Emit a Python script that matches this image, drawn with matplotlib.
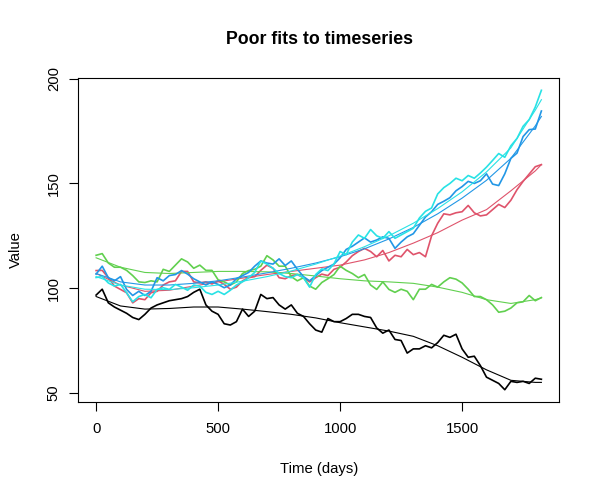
import numpy as np
import matplotlib
matplotlib.use("Agg")
import matplotlib.pyplot as plt

plt.rcParams['font.family'] = ['Liberation Sans', 'DejaVu Sans']

# days sampled every 25 days, 0 .. 1825
days = np.arange(0, 1826, 25)

black_vals = [96.7, 99.5, 93, 91, 89.5, 88, 86, 85, 87.5, 90.5,
              92, 93, 94, 94.5, 95, 96, 98, 99.5, 92, 89,
              87.5, 83, 82.4, 84, 90, 86.5, 89, 97, 95, 95.5,
              92, 90, 92, 88, 86.5, 83, 80, 79, 85.5, 84,
              84, 85.5, 87.5, 87.5, 86.5, 86, 81, 78.5, 80, 75.5,
              75, 69, 71, 71, 72.5, 71.5, 74, 77.5, 76.5, 78,
              71, 67, 67.5, 63, 57.5, 56, 54.5, 51.5, 55.5, 55,
              55.5, 54.5, 57, 56.5]
red_vals = [108.4, 108.5, 105, 101, 99.4, 97.8, 93, 95, 94.5, 97.8,
            98.5, 101.5, 103, 103.5, 108, 108, 103, 102.5, 103, 102,
            103.5, 101.8, 99.5, 100.5, 103.5, 105, 105.5, 108.5, 111, 109.5,
            105, 104.5, 106, 106.5, 105, 103, 105, 106.7, 106, 109,
            110, 112.5, 115.5, 117.5, 119, 117.5, 115, 118, 113, 115.7,
            115, 118.5, 116, 117, 115, 125, 131, 135.5, 135, 136,
            136.5, 139.5, 136, 134.5, 135, 137.5, 140, 138.5, 142, 147,
            151, 154.5, 158, 159]
green_vals = [115.7, 116.5, 112, 110, 110, 108.5, 106, 103, 102.7, 103.5,
              103, 109, 108, 111, 114, 112.5, 109.5, 111, 108.5, 108.5,
              104, 103, 101.5, 103, 107, 108.4, 109, 110.5, 115.5, 113.5,
              110.5, 110.5, 105.5, 103.5, 105, 101, 99.5, 102.7, 104.5, 106.5,
              110.5, 108.5, 107, 105, 106.5, 101.5, 99.4, 103, 99.4, 98,
              99.5, 98.5, 94.5, 99.5, 99.5, 101.8, 100.5, 103, 105, 104.3,
              102.5, 99.5, 96, 96, 94.5, 92, 88.5, 89, 90.5, 93,
              93.5, 96.5, 94, 95.5]
blue_vals = [106.7, 110.5, 105, 103.5, 105.5, 99.4, 96.5, 98.5, 96.5, 98.5,
             105, 103.5, 106, 106.5, 108.4, 106.7, 104.5, 103, 101.5, 103,
             101.8, 100.2, 101.5, 104.5, 106, 107.5, 110.5, 113, 112, 111.5,
             114, 110.8, 113, 109, 105.5, 103.5, 106, 108.4, 110, 111.5,
             114.5, 118.5, 120, 122, 124, 122, 123, 124.5, 123.8, 119,
             122, 124.5, 126, 130, 134, 136.5, 140, 141.5, 143.2, 146.5,
             148.5, 151, 150, 151.3, 154.6, 149.7, 149, 154.6, 162, 164.5,
             172.4, 175.7, 176, 184.6]
cyan_vals = [105.1, 105.5, 102.5, 101, 101.8, 97.8, 93.5, 96, 97, 95.4,
             99.4, 100.2, 99.4, 101.8, 100.5, 99, 101.5, 101, 98, 97,
             98.5, 97, 99, 101.5, 103, 105, 107.5, 113, 111.5, 109.5,
             107, 105.5, 105, 106.5, 105, 100.5, 106.5, 109.2, 108.4, 111.6,
             117.5, 116, 122, 125.4, 123.8, 128, 125, 123.8, 127, 123.8,
             125.4, 127, 128.6, 133.5, 136.7, 138.3, 145, 148, 150, 152.5,
             151.3, 153.8, 152.5, 155, 157.8, 161, 164.3, 162.5, 168, 171.5,
             177.3, 180.5, 186.5, 194.5]

# smooth fits, read every 100 days
fit_days = [0, 100, 200, 300, 400, 500, 600, 700, 800, 900, 1000,
            1100, 1200, 1300, 1400, 1500, 1600, 1700, 1800, 1825]
black_fit = [96, 91.5, 90, 90.3, 91, 91, 90, 88.8, 87.5, 85.8, 83.5,
             81.5, 79.5, 77, 72.5, 67, 61, 56, 55, 55]
red_fit = [107, 101.5, 98.5, 99, 101, 103, 104.8, 106.5, 108, 109.5, 111,
           113.5, 117, 121.5, 126.5, 132.5, 137.5, 146.5, 156, 159]
green_fit = [114.5, 110, 107.5, 107, 107.5, 108, 108, 107.8, 107, 105.8, 104.5,
             103.5, 103, 102.3, 100.5, 98, 94.5, 92.7, 94.5, 95.4]
blue_fit = [107, 103, 101.5, 101.5, 102.3, 103.5, 105.3, 107.3, 109.5, 112, 115,
            118.8, 123.5, 129, 135.5, 143, 151.5, 162, 177.5, 182]
cyan_fit = [105.5, 101.5, 99.5, 99.3, 100.2, 101.5, 103.3, 105.5, 108.2, 111.5, 115.3,
            119.8, 125, 131, 138, 146, 155.5, 167, 185, 190]

series = [(black_vals, black_fit, "black"),
          (red_vals, red_fit, "#DF536B"),
          (green_vals, green_fit, "#61D04F"),
          (blue_vals, blue_fit, "#2297E6"),
          (cyan_vals, cyan_fit, "#28E2E5")]

fig = plt.figure(figsize=(6, 5), dpi=100)
ax = fig.add_axes([0.1305, 0.1966, 0.8015, 0.6468])

for vals, fit, col in series:
    ax.plot(days, vals, color=col, lw=1.2)
    ax.plot(fit_days, fit, color=col, lw=0.8)

# R style 4% padding
allv = np.concatenate([np.array(s[0]) for s in series])
r = allv.max() - allv.min()
ax.set_ylim(allv.min() - 0.04 * r, allv.max() + 0.04 * r)
ax.set_xlim(-0.04 * 1825, 1825 * 1.04)

ax.set_xticks([0, 500, 1000, 1500])
ax.set_yticks([50, 100, 150, 200])
ax.tick_params(direction='out', length=6.5, width=0.8, labelsize=10.7, pad=8)
ax.tick_params(axis='y', pad=6)
for lab in ax.get_yticklabels():
    lab.set_rotation(90)
    lab.set_va('center')
for sp in ax.spines.values():
    sp.set_linewidth(0.8)

fig.text(0.532, 0.92, "Poor fits to timeseries", ha='center', va='center',
         fontsize=12.8, fontweight='bold')
fig.text(0.532, 0.062, "Time (days)", ha='center', va='center', fontsize=10.7)
fig.text(0.027, 0.5, "Value", ha='center', va='center', rotation=90, fontsize=10.7)

fig.savefig("out.png", dpi=100)
